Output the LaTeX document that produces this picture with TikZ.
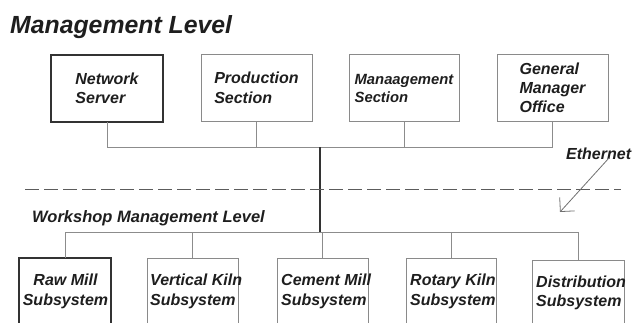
\documentclass[tikz,border=0pt]{standalone}
\usepackage{fontspec}
\setmainfont{Liberation Sans}
\usetikzlibrary{arrows.meta}
\definecolor{boxgray}{HTML}{8A8A8A}
\definecolor{linegray}{HTML}{8C8C8C}
\definecolor{darkline}{HTML}{333333}
\definecolor{txt}{HTML}{1E1E1E}
\begin{document}
\begin{tikzpicture}[x=1pt,y=-1pt,
  lbl/.style={font=\bfseries\itshape\fontsize{16}{19.5}\selectfont, text=txt, inner sep=0pt},
  tbox/.style={draw=boxgray, line width=0.9pt, outer sep=0pt, align=left, inner sep=0pt,
    font=\bfseries\itshape\fontsize{16}{19.5}\selectfont, text=txt},
  thickbox/.style={draw=darkline, line width=1.8pt},
  bbox/.style={draw=boxgray, line width=0.9pt, outer sep=0pt, inner sep=0pt, anchor=north, minimum height=100pt},
  conn/.style={draw=linegray, line width=0.9pt},
  trunk/.style={draw=darkline, line width=1.4pt},
  dashline/.style={draw=darkline!80, line width=1pt, dash pattern=on 14pt off 5pt}
]
\useasboundingbox (0,0) rectangle (632,322);
\clip (0,0) rectangle (632,322);

% titles
\node[lbl, font=\bfseries\itshape\fontsize{24.8}{28}\selectfont, anchor=base west] (title) at (10,33.5) {Management Level};
\node[lbl, font=\bfseries\itshape\fontsize{16.5}{20}\selectfont, anchor=base west] (wml) at (32,222) {Workshop Management Level};
\node[lbl, anchor=base west] (eth) at (566,159) {Ethernet};

% top boxes
\node[tbox, thickbox, minimum width=112pt, minimum height=67pt] (ns) at (107,88.5) {Network\\Server};
\node[tbox, minimum width=111pt, minimum height=67pt] (ps) at (256.5,88) {Production\\Section};
\node[tbox, minimum width=110pt, minimum height=67pt, font=\bfseries\itshape\fontsize{14.8}{18}\selectfont] (ms) at (404,88) {Manaagement\\Section};
\node[tbox, minimum width=111pt, minimum height=67pt, font=\bfseries\itshape\fontsize{16}{19}\selectfont] (gm) at (552.5,88) {General\\Manager\\Office};

% bus coordinates
\coordinate (bus) at (320,147);
\coordinate (lowbus) at (320,232);

\draw[conn] (ns.south) -- (ns.south |- bus) -- (gm.south |- bus) -- (gm.south);
\draw[conn] (ps.south) -- (ps.south |- bus);
\draw[conn] (ms.south) -- (ms.south |- bus);
\draw[trunk] (bus) -- (lowbus);

% dashed separation line
\coordinate (dl) at (25,189);
\coordinate (dr) at (621,189);
\draw[dashline] (dl) -- (dr);

% ethernet arrow
\coordinate (ethtip) at (560,212);
\draw[conn, draw=darkline!70, line width=0.8pt, -{Straight Barb[length=10pt,width=20pt]}] ([xshift=10pt,yshift=1pt]eth.south) -- (ethtip);

% bottom boxes
\node[bbox, thickbox, minimum width=92pt] (raw) at (65,258) {};
\node[bbox, minimum width=91pt] (vk) at (192.5,258) {};
\node[bbox, minimum width=91pt] (cm) at (322.5,258) {};
\node[bbox, minimum width=90pt] (rk) at (451,258) {};
\node[bbox, minimum width=92pt] (ds) at (578,260) {};

\node[lbl, align=center] (rawt) at (65.5,291.5) {Raw Mill\\Subsystem};
\node[lbl, align=left, anchor=west] (vkt) at (150,291.5) {Vertical Kiln\\Subsystem};
\node[lbl, align=left, anchor=west] (cmt) at (281,291.5) {Cement Mill\\Subsystem};
\node[lbl, align=left, anchor=west] (rkt) at (410,291.5) {Rotary Kiln\\Subsystem};
\node[lbl, align=left, anchor=west] (dst) at (536,293) {Distribution\\Subsystem};

\draw[conn] (raw.north) -- (raw.north |- lowbus) -- (ds.north |- lowbus) -- (ds.north);
\draw[conn] (vk.north) -- (vk.north |- lowbus);
\draw[conn] (cm.north) -- (cm.north |- lowbus);
\draw[conn] (rk.north) -- (rk.north |- lowbus);
\end{tikzpicture}
\end{document}
